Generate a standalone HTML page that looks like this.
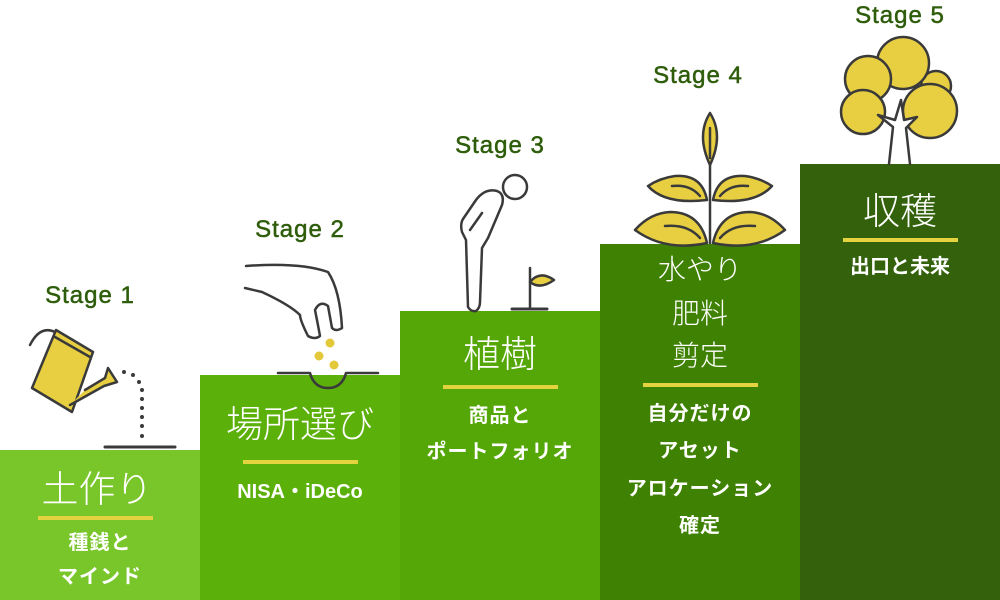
<!DOCTYPE html>
<html><head><meta charset="utf-8"><style>
html,body{margin:0;padding:0;background:#fff}
#c{position:relative;width:1000px;height:600px;overflow:hidden;font-family:"Liberation Sans","Noto Sans CJK JP",sans-serif}
.col{position:absolute;bottom:0;width:200px}
.t{position:absolute;width:200px;text-align:center;color:#fff;white-space:nowrap;line-height:1}
.big{font-size:37px;font-weight:300}
.mid{font-size:28px;font-weight:300}
.sm{font-size:20px;font-weight:bold;letter-spacing:1px}
.ln{position:absolute;height:4px;background:#e3d33e}
.st{position:absolute;width:200px;text-align:center;color:#2e5d0b;font-size:24px;font-weight:normal;letter-spacing:1px;line-height:1;-webkit-text-stroke:0.5px #2e5d0b}
</style></head><body><div id="c">
<div class="col" style="left:0;top:450px;background:#79c62b"></div>
<div class="col" style="left:200px;top:375px;background:#5bb00a"></div>
<div class="col" style="left:400px;top:311px;background:#54a706"></div>
<div class="col" style="left:600px;top:244px;background:#3f8203"></div>
<div class="col" style="left:800px;top:164px;background:#33610c"></div>

<svg style="position:absolute;left:0;top:0" width="1000" height="600">
<g fill="none" stroke="#3a3a3a" stroke-width="2.5" stroke-linejoin="round" stroke-linecap="round">
<!-- col1 watering can -->
<path d="M30 345 Q40 325 55 332" />
<path d="M56 330 L93 352 L72 412 L32 388 Z" fill="#e8cf42"/>
<path d="M55 337 L90 357" />
<path d="M85 390 L105 378 L108 368 L117 382 L104 386 L70 405" fill="#e8cf42"/>
<line x1="105" y1="447" x2="175" y2="447" stroke-width="3"/>
<g fill="#3a3a3a" stroke="none">
<circle cx="124" cy="372" r="2"/><circle cx="133" cy="375" r="2"/><circle cx="139" cy="382" r="2"/><circle cx="142" cy="390" r="2"/><circle cx="142" cy="399" r="2"/><circle cx="142" cy="408" r="2"/><circle cx="142" cy="417" r="2"/><circle cx="142" cy="426" r="2"/><circle cx="142" cy="436" r="2"/>
</g>
<!-- col2 hand -->
<path d="M246 266 Q300 262 328 272 Q340 290 342 328 Q336 332 332 328 L328 306 Q320 300 315 310 Q318 325 320 336 Q315 340 308 336 Q300 320 300 315 Q290 305 262 292 L245 288"/>
<path d="M278 373 L310 373 Q314 388 328 388 Q342 388 346 373 L378 373" stroke-width="2.5"/>
<!-- col3 person -->
<circle cx="515" cy="187" r="12"/>
<path d="M497 191 Q485 188 476 200 L463 219 Q460 224 462 232 L466 240 L468 307 Q471 312 476 311 Q480 308 480 302 L482 248 L488 238 L502 205 Q505 194 497 191 Z"/>
<path d="M470 230 L482 213"/>
<line x1="530" y1="268" x2="530" y2="309"/>
<path d="M530 282 Q540 270 554 280 Q540 290 530 282 Z" fill="#e8cf42"/>
<line x1="512" y1="309" x2="547" y2="309" stroke-width="3"/>
<!-- col4 plant -->
<path d="M710 140 L710 243"/>
<path d="M710 113 Q724 135 710 165 Q696 135 710 113 Z" fill="#e8cf42"/>
<path d="M710 128 L710 158"/>
<path d="M707 200 Q702 174 675 176 Q660 178 648 186 Q665 205 707 200 Z" fill="#e8cf42"/>
<path d="M713 200 Q718 174 745 176 Q760 178 772 186 Q755 205 713 200 Z" fill="#e8cf42"/>
<path d="M707 243 Q700 212 670 212 Q650 213 635 230 Q665 252 707 243 Z" fill="#e8cf42"/>
<path d="M713 243 Q720 212 750 212 Q770 213 785 230 Q755 252 713 243 Z" fill="#e8cf42"/>
<path d="M672 186 Q690 184 700 196"/><path d="M748 186 Q730 184 720 196"/>
<path d="M665 226 Q688 224 700 238"/><path d="M755 226 Q732 224 720 238"/>
<!-- col5 tree -->
<circle cx="936" cy="86" r="15" fill="#e8cf42"/>
<circle cx="903" cy="63" r="26" fill="#e8cf42"/>
<circle cx="868" cy="79" r="23" fill="#e8cf42"/>
<circle cx="863" cy="112" r="22" fill="#e8cf42"/>
<circle cx="930" cy="111" r="27" fill="#e8cf42"/>
<path d="M889 164 L893 127 L878 115 L895 120 L901 100 L904 120 L917 117 L906 128 L910 164" fill="#fff"/>
</g>
<g fill="#e3c83a"><circle cx="330" cy="343" r="4.5"/><circle cx="319" cy="356" r="4.5"/><circle cx="334" cy="365" r="4.5"/></g>
</svg>

<div class="st" style="left:-10px;top:284px">Stage 1</div>
<div class="st" style="left:200px;top:218px">Stage 2</div>
<div class="st" style="left:400px;top:134px">Stage 3</div>
<div class="st" style="left:598px;top:64px">Stage 4</div>
<div class="st" style="left:800px;top:4px">Stage 5</div>

<div class="t big" style="left:-3px;top:471px">土作り</div>
<div class="ln" style="left:38px;top:516px;width:115px"></div>
<div class="t sm" style="left:0;top:533px">種銭と</div>
<div class="t sm" style="left:0;top:567px">マインド</div>

<div class="t big" style="left:200px;top:406px">場所選び</div>
<div class="ln" style="left:243px;top:460px;width:115px"></div>
<div class="t sm" style="left:200px;top:482px;letter-spacing:0">NISA・iDeCo</div>

<div class="t big" style="left:400px;top:336px">植樹</div>
<div class="ln" style="left:443px;top:385px;width:115px"></div>
<div class="t sm" style="left:400px;top:406px">商品と</div>
<div class="t sm" style="left:400px;top:442px">ポートフォリオ</div>

<div class="t mid" style="left:600px;top:256px">水やり</div>
<div class="t mid" style="left:600px;top:300px">肥料</div>
<div class="t mid" style="left:600px;top:342px">剪定</div>
<div class="ln" style="left:643px;top:383px;width:115px"></div>
<div class="t sm" style="left:600px;top:404px">自分だけの</div>
<div class="t sm" style="left:600px;top:441px">アセット</div>
<div class="t sm" style="left:600px;top:479px">アロケーション</div>
<div class="t sm" style="left:600px;top:516px">確定</div>

<div class="t big" style="left:800px;top:193px">収穫</div>
<div class="ln" style="left:843px;top:238px;width:115px"></div>
<div class="t sm" style="left:800px;top:257px;letter-spacing:0">出口と未来</div>
</div></body></html>
